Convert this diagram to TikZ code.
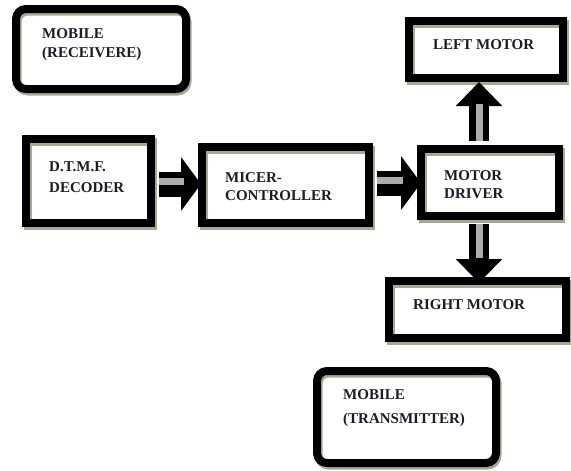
\documentclass[tikz,border=0pt]{standalone}
\usepackage{fontspec}
\setmainfont{Liberation Serif}
\usetikzlibrary{arrows.meta,calc}
\definecolor{shadowc}{HTML}{A9A992}
\definecolor{txtc}{HTML}{1C1C28}
\begin{document}
\begin{tikzpicture}[x=1pt,y=-1pt,
  box/.style={draw=black, line width=8pt, rectangle, inner sep=0pt,
     preaction={draw=shadowc, line width=8pt, transform canvas={xshift=1.5pt,yshift=-2.5pt}}},
  rbox/.style={box, rounded corners=10pt},
  lbl/.style={font=\bfseries\fontsize{15}{#1}\selectfont, text=txtc, inner sep=0pt, align=left},
  lbl/.default=19,
  harr/.style={draw=black, line width=25pt, -{Triangle[length=20pt,width=53pt]}},
  varr/.style={draw=black, line width=20pt, -{Triangle[length=24pt,width=45pt]}},
  stripe/.style={draw=gray!65, line width=7pt}]
\useasboundingbox (0,0) rectangle (571,471);
\fill[white] (0,0) rectangle (571,471);

% boxes
\node[rbox, minimum width=170pt, minimum height=80pt] (recv) at (101,49) {};
\node[box, minimum width=125pt, minimum height=84pt] (dtmf) at (88.5,181) {};
\node[box, minimum width=167pt, minimum height=76pt] (micer) at (285.5,185) {};
\node[box, minimum width=138pt, minimum height=67pt] (driver) at (490,182.5) {};
\node[box, minimum width=154pt, minimum height=57pt] (lmotor) at (486,49.5) {};
\node[box, minimum width=177pt, minimum height=57pt] (rmotor) at (477.5,309.5) {};
\node[rbox, minimum width=179pt, minimum height=92pt] (trans) at (406.5,417) {};

% labels
\node[lbl, anchor=north west] (recvt) at (42,28) {MOBILE\\(RECEIVERE)};
\node[lbl=20.5, anchor=north west] (dtmft) at (49,161.5) {D.T.M.F.\\DECODER};
\node[lbl=18, anchor=north west] (micert) at (225,172) {MICER-\\CONTROLLER};
\node[lbl=18, anchor=north west] (drivert) at (444,170) {MOTOR\\DRIVER};
\node[lbl, anchor=west] (lmotort) at (433,45) {LEFT MOTOR};
\node[lbl, anchor=west] (rmotort) at (413,305) {RIGHT MOTOR};
\node[lbl=24, anchor=north west] (transt) at (343,389) {MOBILE\\(TRANSMITTER)};

% arrow 1: decoder -> controller
\coordinate (a1s) at ([xshift=4pt,yshift=-3pt]dtmf.east);
\coordinate (a1e) at ($(micer.west |- a1s)+(3,0)$);
\draw[harr] (a1s) -- (a1e);
\draw[stripe] ($(a1s)+(0,-3)$) -- ($(a1e)+(-17,-3)$);

% arrow 2: controller -> driver
\coordinate (a2s) at ([xshift=4pt,yshift=2pt]micer.east);
\coordinate (a2e) at ($(driver.west |- a2s)+(4,0)$);
\draw[harr] (a2s) -- (a2e);
\draw[stripe] ($(a2s)+(0,-3)$) -- ($(a2e)+(-18,-3)$);

% arrow 3: driver -> left motor
\coordinate (a3s) at ([xshift=-11pt,yshift=4pt]driver.north);
\coordinate (a3e) at (a3s |- lmotor.south);
\draw[varr] (a3s) -- (a3e);
\draw[stripe] (a3s) -- ($(a3e)+(0,22)$);

% arrow 4: driver -> right motor
\coordinate (a4s) at ([xshift=-11pt,yshift=-4pt]driver.south);
\coordinate (a4e) at ($(a4s |- rmotor.north)+(0,6)$);
\draw[varr] (a4s) -- (a4e);
\draw[stripe] (a4s) -- ($(a4e)+(0,-25)$);
\end{tikzpicture}
\end{document}
